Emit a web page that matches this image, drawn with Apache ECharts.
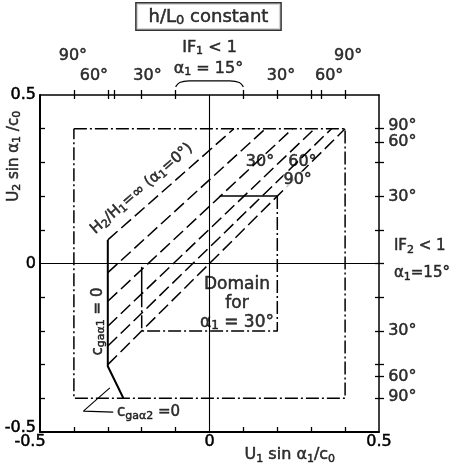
<!DOCTYPE html>
<html>
<head>
<meta charset="utf-8">
<script src="https://cdn.jsdelivr.net/npm/echarts@6/dist/echarts.min.js"></script>
<style>
  html, body { margin: 0; padding: 0; background: #fff; }
  #chart { width: 452px; height: 469px; }
</style>
</head>
<body>
<div id="chart"></div>
<script>
// ---- axis ticks and labels ----
const axisLabelValues = [-0.5, 0, 0.5];
const innerTickValues = [-0.4, -0.3, -0.2, -0.1, 0.1, 0.2, 0.3, 0.4];
const topTickValues = [-0.4, -0.3, -0.28, -0.2, -0.1, 0.1, 0.2, 0.3, 0.33, 0.4];
const rightTickValues = [0.4, 0.36, 0.3, 0.2, 0.1, 0, -0.1, -0.2, -0.3, -0.335, -0.4];

// angle marks printed above the top edge and beside the right edge
const topAngleLabels = ['90°', '60°', '30°', '30°', '60°', '90°'];
const topAngleX = [-0.403, -0.341, -0.183, 0.211, 0.353, 0.409];
const topAngleUpperRow = [true, false, false, false, false, true];
const rightAngleLabels = ['90°', '60°', '30°', '30°', '60°', '90°'];
const rightAngleY = [0.408, 0.362, 0.199, -0.201, -0.335, -0.397];

// ---- region boundaries ----
const outerFrame = [[-0.4, 0.4], [0.4, 0.4], [0.4, -0.4], [-0.4, -0.4], [-0.4, 0.4]];
const cgaBoundary = [[-0.3, 0.07], [-0.3, -0.305], [-0.254, -0.4]];
const domainTop = [[0.03, 0.2], [0.2, 0.2]];
const domainOpenEdge = [[0.2, 0.2], [0.2, -0.2], [-0.2, -0.2], [-0.2, -0.09]];
const domainLeftEdge = [[-0.2, -0.09], [-0.2, -0.01]];

// family of limiting lines: each runs from x = -0.3 up to y = 0.4
const limitStartY = [0.07, -0.027, -0.112, -0.186, -0.245, -0.3];
const limitEndX = [0.072, 0.165, 0.245, 0.31, 0.36, 0.4];
const limitLeftX = -0.3;
const limitTopY = 0.4;

const INK = '#000';
const FONT = 'DejaVu Sans';
const DASH = [13, 5];
const DASH_DOT = [13, 3, 2, 3];
const HEAVY = { textBorderColor: INK, textBorderWidth: 0.5 };

function subStyle(size) {
  return Object.assign({
    fontSize: Math.round(size * 0.7), padding: [Math.round(size * 0.45), 0, 0, 0],
    fontFamily: FONT, color: INK
  }, HEAVY);
}

function path(points, type, width) {
  return {
    type: 'line', data: points, symbol: 'none', silent: true, clip: false,
    lineStyle: { color: INK, width: width, type: type, cap: 'butt' }, z: 3
  };
}

function note(pos, text, opts) {
  const size = (opts && opts.fontSize) || 16;
  return {
    value: pos,
    label: Object.assign({
      show: true, position: 'inside', formatter: text, color: INK,
      fontFamily: FONT, fontSize: size, rich: { s: subStyle(size) }
    }, HEAVY, opts || {})
  };
}

const series = [];

// zero axes through the plot
series.push(path([[0, -0.5], [0, 0.5]], 'solid', 1.1));
series.push(path([[-0.5, 0], [0.5, 0]], 'solid', 1.1));

// frames
series.push(path(outerFrame, DASH_DOT, 1.5));
series.push(path(domainTop, 'solid', 1.5));
series.push(path(domainOpenEdge, DASH_DOT, 1.5));
series.push(path(domainLeftEdge, 'solid', 1.5));
series.push(path(cgaBoundary, 'solid', 2));

// limiting lines
limitStartY.forEach(function (y0, i) {
  series.push(path([[limitLeftX, y0], [limitEndX[i], limitTopY]], DASH, 1.5));
});

// leader for the c_ga,alpha2 label
series.push(path([[-0.284, -0.441], [-0.372, -0.438], [-0.294, -0.369]], 'solid', 1.1));

// braces for the 15 degree intervals
series.push(Object.assign(path([[-0.1, 0.524], [-0.088, 0.537], [-0.06, 0.542], [0.06, 0.542], [0.088, 0.537], [0.1, 0.524]], 'solid', 1.2), { smooth: 0.4 }));
series.push(Object.assign(path([[0.514, 0.105], [0.532, 0.09], [0.537, 0.03], [0.541, 0], [0.537, -0.03], [0.532, -0.09], [0.514, -0.105]], 'solid', 1.2), { smooth: 0.3 }));

// text annotations
const notes = [];
topAngleLabels.forEach(function (t, i) {
  notes.push(note([topAngleX[i], topAngleUpperRow[i] ? 0.6175 : 0.558], t));
});
rightAngleLabels.forEach(function (t, i) {
  notes.push(note([0.527, rightAngleY[i]], t, { align: 'left' }));
});
notes.push(note([0.0, 0.641], 'IF{s|1} < 1'));
notes.push(note([-0.003, 0.579], 'α{s|1} = 15°'));
notes.push(note([0.544, 0.051], 'IF{s|2} < 1', { align: 'left', fontSize: 15 }));
notes.push(note([0.544, -0.029], 'α{s|1}=15°', { align: 'left', fontSize: 15 }));
notes.push(note([-0.003, 0.733], 'h/L{s|0} constant', {
  fontSize: 18, borderColor: INK, borderWidth: 1.5, padding: [3, 12, 2, 12], backgroundColor: '#fff'
}));
notes.push(note([-0.577, 0.318], 'U{s|2} sin α{s|1} /c{s|0}', { rotate: 90, fontSize: 15 }));
notes.push(note([0.237, -0.569], 'U{s|1} sin α{s|1}/c{s|0}', { fontSize: 16 }));
notes.push(note([-0.2, 0.222], 'H{s|2}/H{s|1}=∞ (α{s|1}=0°)', { rotate: 41, fontSize: 15 }));
notes.push(note([0.149, 0.303], '30°'));
notes.push(note([0.274, 0.303], '60°'));
notes.push(note([0.26, 0.249], '90°', { backgroundColor: '#fff' }));
notes.push(note([0.081, -0.118], 'Domain\nfor\nα{s|1} = 30°', { fontSize: 17, lineHeight: 19 }));
notes.push(note([-0.329, -0.172], 'c{s|gaα1} = 0', { rotate: 90, fontSize: 15 }));
notes.push(note([-0.273, -0.442], 'c{s|gaα2} =0', { align: 'left', fontSize: 15 }));

series.push({
  type: 'scatter', data: notes, symbolSize: 0, clip: false, silent: true, z: 5
});

function baseAxis(extra) {
  return Object.assign({
    type: 'value', min: -0.5, max: 0.5, interval: 0.5, gridIndex: 0,
    splitLine: { show: false },
    axisLine: { show: true, onZero: false, lineStyle: { color: INK, width: 1.5 } },
    axisTick: { show: false },
    axisLabel: { show: false }
  }, extra);
}

const labelStyle = Object.assign({ color: INK, fontFamily: FONT, fontSize: 16 }, HEAVY);
const tickStyle = { color: INK, width: 1.3 };

const option = {
  animation: false,
  backgroundColor: '#fff',
  textStyle: { fontFamily: FONT },
  grid: { left: 40, top: 95, width: 339, height: 337 },
  xAxis: [
    baseAxis({
      position: 'bottom',
      axisLine: { show: true, onZero: false, lineStyle: { color: INK, width: 2 } },
      axisTick: { show: true, inside: true, length: 5, customValues: innerTickValues, lineStyle: tickStyle },
      axisLabel: Object.assign({
        show: true, margin: 2, customValues: axisLabelValues,
        formatter: function (v) { return v === -0.5 ? '{m|-0.5}' : String(v); },
        rich: { m: Object.assign({ fontSize: 16, fontFamily: FONT, color: INK, padding: [0, 20, 0, 0] }, HEAVY) }
      }, labelStyle)
    }),
    baseAxis({
      position: 'top',
      axisTick: { show: true, inside: true, length: 4, customValues: topTickValues, lineStyle: tickStyle }
    }),
    baseAxis({
      position: 'top',
      axisLine: { show: false, onZero: false },
      axisTick: { show: true, inside: false, length: 5, customValues: topTickValues, lineStyle: tickStyle }
    })
  ],
  yAxis: [
    baseAxis({
      position: 'left',
      axisLine: { show: true, onZero: false, lineStyle: { color: INK, width: 2 } },
      axisTick: { show: true, inside: true, length: 5, customValues: innerTickValues, lineStyle: tickStyle },
      axisLabel: Object.assign({
        show: true, margin: 4, customValues: axisLabelValues,
        formatter: function (v) { return v === -0.5 ? '{m|-0.5}' : String(v); },
        rich: { m: Object.assign({ fontSize: 16, fontFamily: FONT, color: INK, padding: [0, 0, 8, 0] }, HEAVY) }
      }, labelStyle)
    }),
    baseAxis({
      position: 'right',
      axisTick: { show: true, inside: true, length: 4, customValues: rightTickValues, lineStyle: tickStyle }
    }),
    baseAxis({
      position: 'right',
      axisLine: { show: false, onZero: false },
      axisTick: { show: true, inside: false, length: 5, customValues: rightTickValues, lineStyle: tickStyle }
    })
  ],
  series: series
};

const chart = echarts.init(document.getElementById('chart'), null, { renderer: 'canvas' });
chart.setOption(option);
</script>
</body>
</html>
